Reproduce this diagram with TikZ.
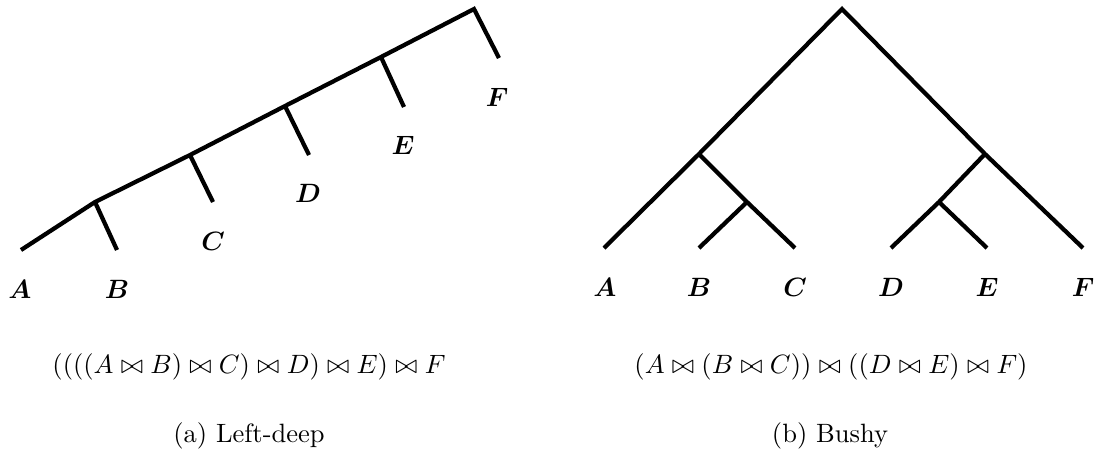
\documentclass[tikz,border=0pt]{standalone}
\usepackage{amsmath}
\newcommand{\lbl}[1]{$\boldsymbol{#1}$}
\begin{document}
\begin{tikzpicture}[x=0.3774pt,y=-0.3774pt,
  edge/.style={line width=1.6pt},
  leaf/.style={anchor=base,inner sep=0pt},
  formula/.style={anchor=base,inner sep=0pt},
  caption/.style={anchor=base,inner sep=0pt}]
\useasboundingbox (0,0) rectangle (1097,457);
% ---------- left-deep tree ----------
\coordinate (la) at (21,250);
\coordinate (lj1) at (95,202);
\coordinate (lb) at (117,250);
\coordinate (lj2) at (190,155);
\coordinate (lc) at (213,202);
\coordinate (lj3) at (285,106);
\coordinate (ld) at (309,155);
\coordinate (lj4) at (381,57);
\coordinate (le) at (404,107);
\coordinate (ltop) at (474,9);
\coordinate (lf) at (499,58);
\draw[edge] (la) -- (lj1) -- (lj2) -- (lj3) -- (lj4) -- (ltop) -- (lf);
\draw[edge] (lj1) -- (lb);
\draw[edge] (lj2) -- (lc);
\draw[edge] (lj3) -- (ld);
\draw[edge] (lj4) -- (le);
\node[leaf] (tA) at (20,298) {\lbl{A}};
\node[leaf] (tB) at (117,298) {\lbl{B}};
\node[leaf] (tC) at (213,250) {\lbl{C}};
\node[leaf] (tD) at (308,202) {\lbl{D}};
\node[leaf] (tE) at (403,154) {\lbl{E}};
\node[leaf] (tF) at (497,106) {\lbl{F}};
% ---------- bushy tree ----------
\coordinate (rtop) at (842,9);
\coordinate (rl) at (699,154);
\coordinate (rbc) at (747,202);
\coordinate (rr) at (985,154);
\coordinate (rde) at (939,202);
\coordinate (ra) at (604,248);
\coordinate (rb) at (699,248);
\coordinate (rc) at (795,248);
\coordinate (rd) at (891,248);
\coordinate (re) at (987,248);
\coordinate (rf) at (1083,248);
\draw[edge] (ra) -- (rl) -- (rtop) -- (rr) -- (rf);
\draw[edge] (rl) -- (rbc) -- (rc);
\draw[edge] (rbc) -- (rb);
\draw[edge] (rr) -- (rde) -- (rd);
\draw[edge] (rde) -- (re);
\node[leaf] (uA) at (605,296) {\lbl{A}};
\node[leaf] (uB) at (699,296) {\lbl{B}};
\node[leaf] (uC) at (795,296) {\lbl{C}};
\node[leaf] (uD) at (891,296) {\lbl{D}};
\node[leaf] (uE) at (987,296) {\lbl{E}};
\node[leaf] (uF) at (1083,296) {\lbl{F}};
% ---------- formulas and captions ----------
\node[formula] (fl) at (249,373) {$((((A \bowtie B) \bowtie C) \bowtie D) \bowtie E) \bowtie F$};
\node[formula] (fr) at (831,373) {$(A \bowtie (B \bowtie C)) \bowtie ((D \bowtie E) \bowtie F)$};
\node[caption] (cl) at (249,442) {(a) Left-deep};
\node[caption] (cr) at (830,442) {(b) Bushy};
\end{tikzpicture}
\end{document}
